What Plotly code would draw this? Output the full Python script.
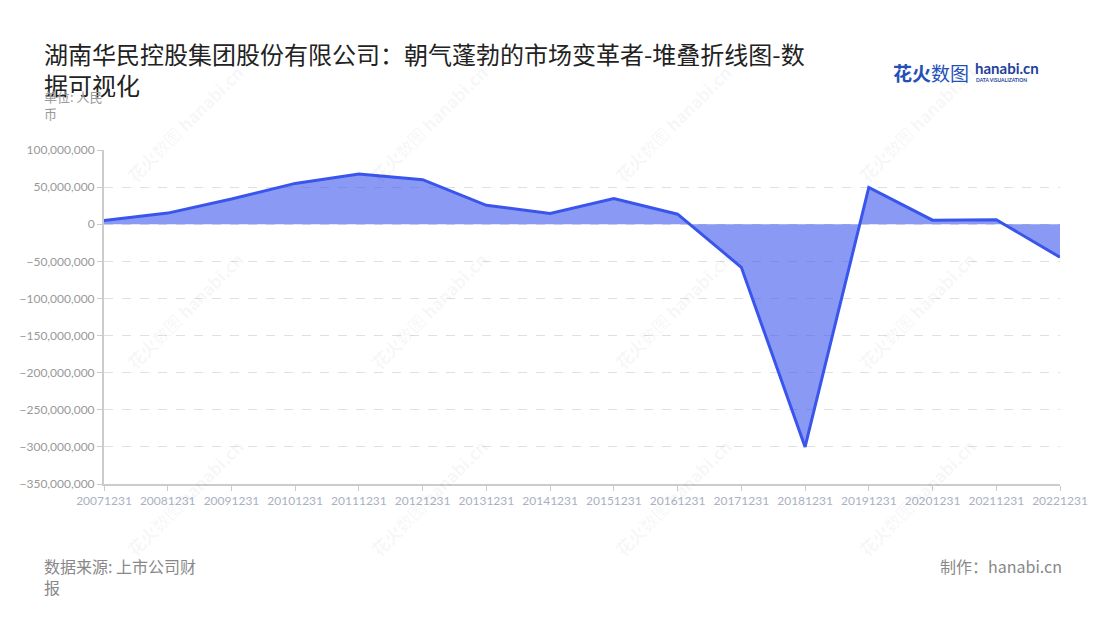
import plotly.graph_objects as go

categories = ["20071231", "20081231", "20091231", "20101231", "20111231", "20121231",
              "20131231", "20141231", "20151231", "20161231", "20171231", "20181231",
              "20191231", "20201231", "20211231", "20221231"]
values = [5.0e6, 15.0e6, 34.0e6, 55.0e6, 67.5e6, 60.0e6,
          25.5e6, 14.5e6, 34.5e6, 13.5e6, -58.0e6, -300.0e6,
          49.5e6, 5.5e6, 6.0e6, -44.5e6]
y_tickvals = [100e6, 50e6, 0, -50e6, -100e6, -150e6, -200e6, -250e6, -300e6, -350e6]

title_text = "湖南华民控股集团股份有限公司：朝气蓬勃的市场变革者-堆叠折线图-数<br>据可视化"
unit_text = "单位: 人民<br>币"
source_text = "数据来源: 上市公司财<br>报"
credit_text = "制作：hanabi.cn"

FONT = "Noto Sans CJK SC, Noto Sans, sans-serif"
W, H = 1100, 620
OFF = 8  # page body margin offset
L, R, T, B = 92, 48, 142, 144
PW, PH = W - L - R, H - T - B


def px(x):
    # x given in screenshot pixels
    return (x - OFF - L) / PW


def py(y):
    return (H - B - (y - OFF)) / PH


fig = go.Figure()
fig.add_trace(go.Scatter(
    x=categories, y=values, mode="lines",
    line=dict(color="#3a55ec", width=3),
    fill="tozeroy", fillcolor="rgba(58,85,236,0.6)",
    hoverinfo="x+y", showlegend=False,
))

annotations = []
# watermarks
for cx in [181, 426, 671, 916]:
    for cy in [123, 310, 497]:
        annotations.append(dict(
            x=px(cx), y=py(cy), xref="paper", yref="paper",
            text="<b>花火</b>数图 <b>hanabi.cn</b>", showarrow=False, textangle=-45,
            font=dict(family=FONT, size=17, color="rgba(0,0,0,0.055)"),
            xanchor="center", yanchor="middle",
        ))

annotations += [
    dict(x=px(38), y=py(34), xref="paper", yref="paper", text=title_text,
         showarrow=False, xanchor="left", yanchor="top", align="left",
         font=dict(family=FONT, size=24, color="#222222")),
    dict(x=px(38), y=py(85), xref="paper", yref="paper", text=unit_text,
         showarrow=False, xanchor="left", yanchor="top", align="left",
         font=dict(family=FONT, size=13, color="#999999")),
    dict(x=px(38), y=py(552), xref="paper", yref="paper", text=source_text,
         showarrow=False, xanchor="left", yanchor="top", align="left",
         font=dict(family=FONT, size=16, color="#888888")),
    dict(x=px(1064), y=py(552), xref="paper", yref="paper", text=credit_text,
         showarrow=False, xanchor="right", yanchor="top", align="right",
         font=dict(family=FONT, size=16, color="#888888")),
    # logo
    dict(x=px(890), y=py(72), xref="paper", yref="paper", text="<b>花火</b>数图",
         showarrow=False, xanchor="left", yanchor="middle",
         font=dict(family=FONT, size=19, color="#2350b8")),
    dict(x=px(973), y=py(68), xref="paper", yref="paper", text="<b>hanabi.cn</b>",
         showarrow=False, xanchor="left", yanchor="middle",
         font=dict(family="Lato, sans-serif", size=15, color="#1f3f9e")),
    dict(x=px(974), y=py(80), xref="paper", yref="paper", text="<b>DATA VISUALIZATION</b>",
         showarrow=False, xanchor="left", yanchor="middle",
         font=dict(family="Lato, sans-serif", size=5, color="#1f3f9e")),
]

fig.update_layout(
    width=W, height=H,
    margin=dict(l=L, r=R, t=T, b=B, pad=0),
    paper_bgcolor="white", plot_bgcolor="white",
    font=dict(family=FONT),
    annotations=annotations,
    xaxis=dict(
        type="category", range=[0, len(categories) - 1],
        showgrid=False, zeroline=False,
        showline=True, linecolor="#cccccc", linewidth=2,
        ticks="outside", ticklen=5, tickcolor="#cccccc", tickwidth=1,
        tickfont=dict(family="Lato, Noto Sans, sans-serif", size=12, color="#aab0c2"),
        tickangle=0,
    ),
    yaxis=dict(
        range=[-350e6, 100e6], tickvals=y_tickvals, tickformat=",d",
        showgrid=True, gridcolor="#e0e0e0", griddash="dash", gridwidth=1,
        zeroline=False,
        showline=True, linecolor="#cccccc", linewidth=2,
        ticks="outside", ticklen=5, tickcolor="#cccccc", tickwidth=1,
        tickfont=dict(family="Lato, Noto Sans, sans-serif", size=12, color="#999999"),
    ),
)

fig.write_html("out.html")
